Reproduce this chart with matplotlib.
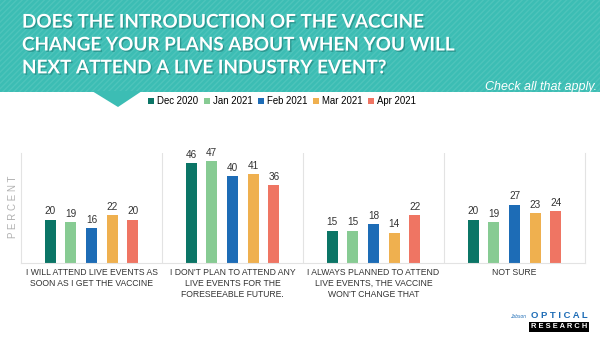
import numpy as np
import matplotlib.pyplot as plt
from matplotlib.patches import Rectangle, Polygon
import matplotlib.patheffects as pe

categories = [
    "I WILL ATTEND LIVE EVENTS AS\nSOON AS I GET THE VACCINE",
    "I DON'T PLAN TO ATTEND ANY\nLIVE EVENTS FOR THE\nFORESEEABLE FUTURE.",
    "I ALWAYS PLANNED TO ATTEND\nLIVE EVENTS, THE VACCINE\nWON'T CHANGE THAT",
    "NOT SURE",
]
months = ["Dec 2020", "Jan 2021", "Feb 2021", "Mar 2021", "Apr 2021"]
dec_2020 = [20, 46, 15, 20]
jan_2021 = [19, 47, 15, 19]
feb_2021 = [16, 40, 18, 27]
mar_2021 = [22, 41, 14, 23]
apr_2021 = [20, 36, 22, 24]
series = [dec_2020, jan_2021, feb_2021, mar_2021, apr_2021]
colors = ["#0b7566", "#87cb93", "#1d6cb6", "#efb04f", "#ef7563"]

title = ("DOES THE INTRODUCTION OF THE VACCINE\n"
         "CHANGE YOUR PLANS ABOUT WHEN YOU WILL\n"
         "NEXT ATTEND A LIVE INDUSTRY EVENT?")

plt.rcParams["font.family"] = ["Liberation Sans", "DejaVu Sans"]

fig = plt.figure(figsize=(6, 3.38), dpi=100)

# header banner
bg = fig.add_axes([0, 0, 1, 1])
bg.set_xlim(0, 600)
bg.set_ylim(338, 0)
bg.axis("off")
banner = "#3cbdb4"
bg.add_patch(Rectangle((0, 0), 600, 92, facecolor=banner, edgecolor="#4ec4bb",
                       hatch="//////", linewidth=0))
bg.add_patch(Polygon([(92, 91), (142, 91), (118, 107)], closed=True,
                     facecolor=banner, edgecolor="none"))
bg.text(22, 45, title, color="white", fontsize=13.6, fontweight="bold",
        family="Lato", ha="left", va="center", linespacing=1.42,
        path_effects=[pe.withSimplePatchShadow(offset=(1, -1), shadow_rgbFace="#1f7f79", alpha=0.6)])
bg.text(597, 87, "Check all that apply.", color="white", fontsize=9,
        style="italic", ha="right", va="center")

# logo
bg.text(559, 316, "O P T I C A L", color="#1d6cb6", fontsize=6.8, fontweight="bold",
        ha="center", va="center")
bg.text(518, 316, "Jobson", color="#1d6cb6", fontsize=3.5, style="italic",
        ha="center", va="center")
bg.text(559, 327, "R E S E A R C H", color="white", fontsize=5.4, fontweight="bold",
        ha="center", va="center",
        bbox=dict(boxstyle="square,pad=0.2", facecolor="black", edgecolor="none"))

ax = fig.add_axes([0.035, 0.222, 0.94, 0.325])
x = np.arange(len(categories))
step = 0.147
width = 0.078
for i, (vals, col, name) in enumerate(zip(series, colors, months)):
    pos = x + (i - 2) * step
    ax.bar(pos, vals, width, color=col, label=name)
    for p, v in zip(pos, vals):
        ax.text(p, v + 1.5, str(v), ha="center", va="bottom", fontsize=7.2,
                color="#333333")

ax.set_xlim(-0.5, 3.5)
ax.set_ylim(0, 50.8)
ax.set_yticks([])
ax.set_xticks([])
ax.spines["top"].set_visible(False)
for s in ["left", "bottom", "right"]:
    ax.spines[s].set_color("#e3e3e3")
    ax.spines[s].set_linewidth(0.8)
for b in [0.5, 1.5, 2.5]:
    ax.axvline(b, color="#e3e3e3", linewidth=0.8)

for xi, lab in zip(x, categories):
    ax.text(xi, -2.5, lab, ha="center", va="top", fontsize=6.2,
            color="#333333", linespacing=1.25)

ax.text(-0.555, 26, "P E R C E N T", rotation=90, ha="center", va="center",
        fontsize=7, color="#b0b0b0")

fig.legend(loc="center", bbox_to_anchor=(0.47, 1 - 101 / 338), ncol=5,
           frameon=False, fontsize=6.9, handlelength=0.6, handleheight=0.6,
           handletextpad=0.3, columnspacing=0.6)

fig.savefig("out.png", dpi=100)
